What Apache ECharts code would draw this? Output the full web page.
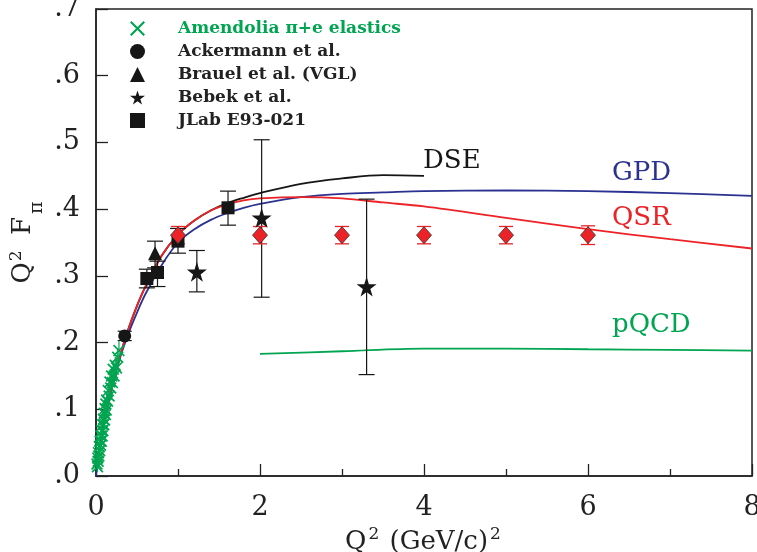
<!DOCTYPE html>
<html><head><meta charset="utf-8">
<script src="https://cdn.jsdelivr.net/npm/echarts@6/dist/echarts.min.js"></script>
<style>html,body{margin:0;padding:0;background:#fff}#c{width:757px;height:552px}</style>
</head><body><div id="c"></div>
<script>
// ---- data ----
const amQ = [0.012,0.018,0.022,0.026,0.030,0.035,0.040,0.045,0.050,0.055,0.060,0.065,0.070,0.075,0.080,0.085,0.090,0.095,0.100,0.105,0.110,0.115,0.120,0.125,0.130,0.140,0.150,0.160,0.170,0.180,0.190,0.200,0.210,0.220,0.235,0.250,0.265,0.280];
const amF = [0.018,0.014,0.027,0.022,0.035,0.030,0.044,0.038,0.052,0.046,0.060,0.052,0.068,0.060,0.077,0.068,0.085,0.077,0.094,0.084,0.101,0.092,0.108,0.099,0.114,0.112,0.128,0.120,0.141,0.132,0.150,0.140,0.160,0.150,0.166,0.162,0.178,0.188];
const amErr = [0.008,0.008,0.008,0.008,0.008,0.008,0.008,0.008,0.008,0.008,0.009,0.009,0.009,0.009,0.009,0.009,0.009,0.010,0.010,0.010,0.010,0.010,0.010,0.011,0.011,0.011,0.011,0.012,0.012,0.012,0.012,0.012,0.013,0.013,0.013,0.014,0.014,0.014];

const ackQ = [0.35];
const ackF = [0.210];
const ackLo = [0.203];
const ackHi = [0.217];

const brQ = [0.72];
const brF = [0.334];
const brLo = [0.312];
const brHi = [0.352];

const bebQ = [1.23, 2.02, 3.30];
const bebF = [0.306, 0.387, 0.284];
const bebLo = [0.276, 0.268, 0.152];
const bebHi = [0.338, 0.504, 0.415];

const jlQ = [0.62, 0.75, 1.00, 1.61];
const jlF = [0.296, 0.305, 0.352, 0.402];
const jlLo = [0.282, 0.284, 0.334, 0.376];
const jlHi = [0.310, 0.322, 0.371, 0.427];

const projQ = [1, 2, 3, 4, 5, 6];
const projF = [0.361, 0.361, 0.361, 0.361, 0.361, 0.361];
const projLo = [0.348, 0.348, 0.348, 0.348, 0.348, 0.347];
const projHi = [0.374, 0.374, 0.374, 0.374, 0.374, 0.375];

const gpdQ = [0, 0.05, 0.1, 0.2, 0.3, 0.4, 0.5, 0.6, 0.8, 1.0, 1.2, 1.4, 1.6, 1.8, 2.0, 2.5, 3, 3.5, 4, 5, 6, 7, 8];
const gpdF = [0, 0.045, 0.080, 0.135, 0.180, 0.215, 0.245, 0.272, 0.316, 0.350, 0.370, 0.384, 0.394, 0.402, 0.408, 0.418, 0.423, 0.425, 0.427, 0.428, 0.427, 0.424, 0.420];

const qsrQ = [0.1, 0.2, 0.3, 0.4, 0.5, 0.6, 0.8, 1.0, 1.2, 1.4, 1.6, 1.8, 2.0, 2.5, 3, 3.5, 4, 5, 6, 7, 8];
const qsrF = [0.078, 0.135, 0.183, 0.222, 0.255, 0.283, 0.330, 0.362, 0.383, 0.398, 0.407, 0.413, 0.416, 0.418, 0.416, 0.410, 0.404, 0.387, 0.370, 0.355, 0.341];

const dseQ = [0.1, 0.2, 0.3, 0.4, 0.5, 0.6, 0.8, 1.0, 1.2, 1.4, 1.6, 1.8, 2.0, 2.5, 3, 3.5, 4];
const dseF = [0.078, 0.135, 0.183, 0.222, 0.255, 0.283, 0.330, 0.362, 0.383, 0.398, 0.409, 0.417, 0.424, 0.438, 0.446, 0.451, 0.450];

const pqcdQ = [2, 3, 4, 5, 6, 7, 8];
const pqcdF = [0.183, 0.187, 0.191, 0.191, 0.190, 0.189, 0.188];

const xTicks = [0, 2, 4, 6, 8];
const yTicks = [0, 0.1, 0.2, 0.3, 0.4, 0.5, 0.6, 0.7];

// ---- helpers ----
const zip = (a, b) => a.map((v, i) => [v, b[i]]);
const zip3 = (a, b, c) => a.map((v, i) => [v, b[i], c[i]]);
const FONT = 'DejaVu Serif';
const STAR = 'path://M50,0 L61,35 L98,35 L68,57 L79,91 L50,70 L21,91 L32,57 L2,35 L39,35 Z';
const XMARK = 'path://M0,1L1,0L5,4L9,0L10,1L6,5L10,9L9,10L5,6L1,10L0,9L4,5Z';
const C_BLACK = '#161616', C_BLUE = '#2b3190', C_RED = '#ec2227', C_GREEN = '#00a551';

function errSeries(q, lo, hi, color, cap, lw) {
  return {
    type: 'custom', silent: true, z: 3,
    data: zip3(q, lo, hi),
    encode: { x: 0, y: [1, 2] },
    renderItem: function (params, api) {
      const x = api.value(0);
      const a = api.coord([x, api.value(1)]);
      const b = api.coord([x, api.value(2)]);
      const st = { stroke: color, lineWidth: lw };
      const ch = [{ type: 'line', shape: { x1: a[0], y1: a[1], x2: b[0], y2: b[1] }, style: st }];
      if (cap > 0) {
        ch.push({ type: 'line', shape: { x1: a[0] - cap, y1: a[1], x2: a[0] + cap, y2: a[1] }, style: st });
        ch.push({ type: 'line', shape: { x1: b[0] - cap, y1: b[1], x2: b[0] + cap, y2: b[1] }, style: st });
      }
      return { type: 'group', children: ch };
    }
  };
}
function curve(q, f, color) {
  return { type: 'line', data: zip(q, f), smooth: 0.35, showSymbol: false, silent: true, z: 2,
    lineStyle: { color: color, width: 1.8 }, itemStyle: { color: color } };
}
function pts(name, q, f, symbol, size, color, extra) {
  return { name: name, type: 'scatter', data: zip(q, f), symbol: symbol, symbolSize: size, z: 5,
    itemStyle: Object.assign({ color: color, opacity: 1 }, extra || {}),
    emphasis: { disabled: true } };
}

const chart = echarts.init(document.getElementById('c'), null, { renderer: 'canvas' });
const option = {
  animation: false,
  backgroundColor: '#fff',
  grid: { left: 96, right: 5, top: 9, bottom: 76, containLabel: false, outerBoundsMode: 'none',
    show: true, borderColor: '#222', borderWidth: 1.5, backgroundColor: 'transparent' },
  xAxis: {
    type: 'value', min: 0, max: 8, interval: 2,
    name: 'Q{s|2} (GeV/c){s|2}', nameLocation: 'middle', nameGap: 44,
    nameTextStyle: { fontFamily: FONT, fontSize: 26, color: '#222', lineHeight: 32,
      rich: { s: { fontFamily: FONT, fontSize: 17, color: '#222', verticalAlign: 'top', lineHeight: 17, padding: [0, 2, 0, 2] } } },
    axisLine: { show: true, lineStyle: { color: '#222', width: 1.5 } },
    axisTick: { show: true, inside: true, length: 12, lineStyle: { color: '#222', width: 1.3 } },
    minorTick: { show: true, splitNumber: 2, length: 7, lineStyle: { color: '#222', width: 1.3 } },
    splitLine: { show: false },
    axisLabel: { fontFamily: FONT, fontSize: 27, color: '#222', margin: 18,
      formatter: v => xTicks.includes(v) ? String(v) : '' }
  },
  yAxis: {
    type: 'value', min: 0, max: 0.7, interval: 0.1,
    name: 'Q{sup|2} F{sub|π}', nameLocation: 'middle', nameGap: 58, nameRotate: 90, nameMoveOverlap: false,
    nameTextStyle: { fontFamily: FONT, fontSize: 26, color: '#222', lineHeight: 30,
      rich: {
        sup: { fontFamily: FONT, fontSize: 17, color: '#222', verticalAlign: 'top', lineHeight: 17, padding: [0, 7, 0, 1] },
        sub: { fontFamily: FONT, fontSize: 19, color: '#222', verticalAlign: 'top', lineHeight: 19, padding: [20, 0, 0, 3] }
      } },
    axisLine: { show: true, lineStyle: { color: '#222', width: 1.5 } },
    axisTick: { show: true, inside: true, length: 12, lineStyle: { color: '#222', width: 1.3 } },
    splitLine: { show: false },
    axisLabel: { fontFamily: FONT, fontSize: 27, color: '#222', margin: 16,
      formatter: v => v.toFixed(1).replace(/^0\./, '.') }
  },
  legend: {
    orient: 'vertical', left: 125, top: 15, itemWidth: 15, itemHeight: 15, itemGap: 6,
    textStyle: { fontFamily: FONT, fontWeight: 'bold', fontSize: 17, lineHeight: 17, color: '#222', padding: [0, 0, 0, 28] },
    selectedMode: false,
    data: [
      { name: 'Amendolia π+e elastics', textStyle: { color: C_GREEN } },
      { name: 'Ackermann et al.' },
      { name: 'Brauel et al. (VGL)' },
      { name: 'Bebek et al.' },
      { name: 'JLab E93-021' }
    ]
  },
  graphic: [
    { type: 'text', left: 423, top: 148, style: { text: 'DSE', fontFamily: FONT, fontSize: 26, fill: C_BLACK } },
    { type: 'text', left: 612, top: 160, style: { text: 'GPD', fontFamily: FONT, fontSize: 26, fill: C_BLUE } },
    { type: 'text', left: 612, top: 205, style: { text: 'QSR', fontFamily: FONT, fontSize: 26, fill: C_RED } },
    { type: 'text', left: 612, top: 312, style: { text: 'pQCD', fontFamily: FONT, fontSize: 26, fill: C_GREEN } }
  ],
  series: [
    curve(dseQ, dseF, C_BLACK),
    curve(pqcdQ, pqcdF, C_GREEN),
    curve(gpdQ, gpdF, C_BLUE),
    curve(qsrQ, qsrF, C_RED),
    errSeries(amQ, amQ.map((q, i) => amF[i] - amErr[i]), amQ.map((q, i) => amF[i] + amErr[i]), C_GREEN, 0, 1.2),
    pts('Amendolia π+e elastics', amQ, amF, XMARK, 12, C_GREEN),
    errSeries(ackQ, ackLo, ackHi, C_BLACK, 7, 1.2),
    pts('Ackermann et al.', ackQ, ackF, 'circle', 13, C_BLACK),
    errSeries(brQ, brLo, brHi, C_BLACK, 8, 1.2),
    pts('Brauel et al. (VGL)', brQ, brF, 'triangle', 14, C_BLACK),
    errSeries(jlQ, jlLo, jlHi, C_BLACK, 8, 1.2),
    pts('JLab E93-021', jlQ, jlF, 'rect', 13, C_BLACK),
    errSeries(bebQ, bebLo, bebHi, C_BLACK, 8, 1.2),
    pts('Bebek et al.', bebQ, bebF, STAR, 20, C_BLACK),
    errSeries(projQ, projLo, projHi, C_RED, 7, 1.3),
    Object.assign(pts('projected', projQ, projF, 'diamond', [15, 17], C_RED, { borderColor: '#333', borderWidth: 0.8 }), { z: 6 })
  ]
};
chart.setOption(option);
</script></body></html>
